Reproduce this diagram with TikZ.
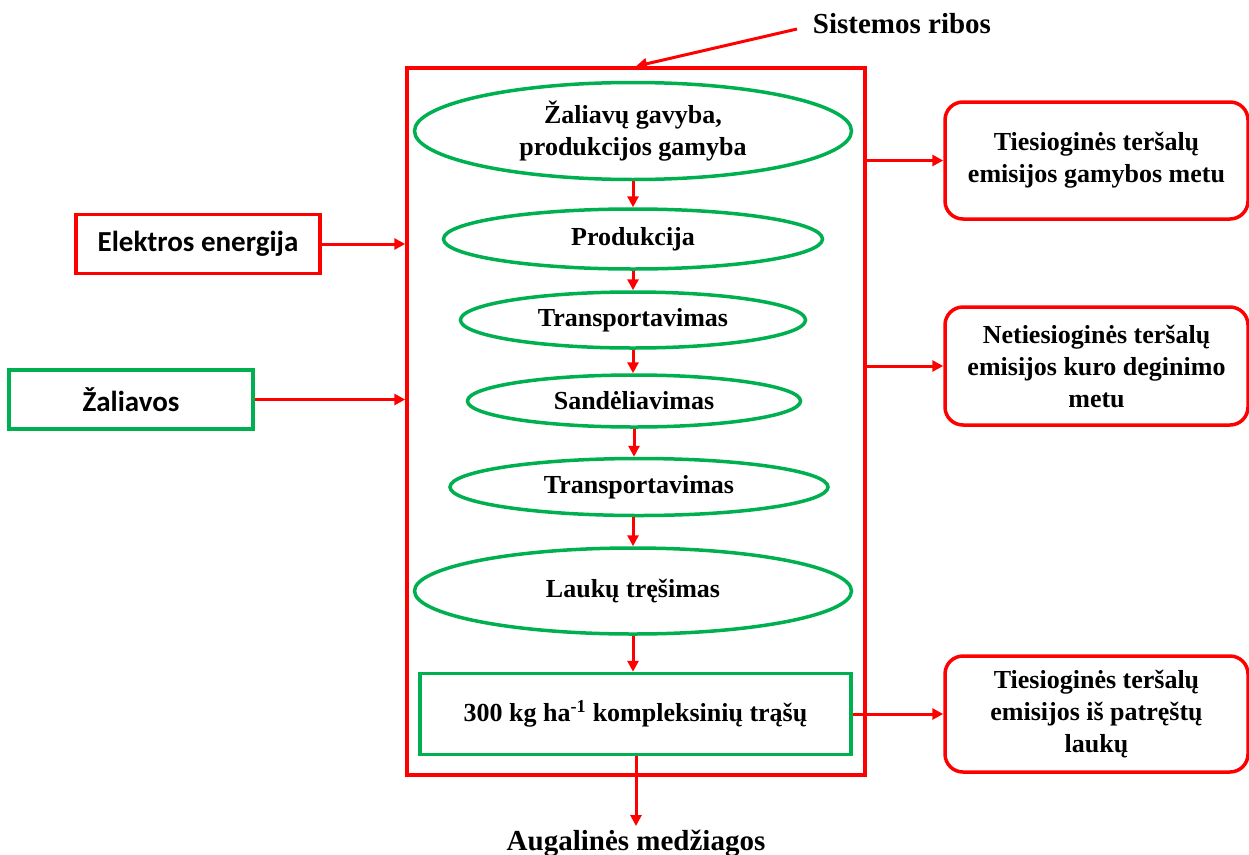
\documentclass[tikz,border=0pt]{standalone}
\usepackage{fontspec}
\setmainfont{Liberation Serif}
\newfontfamily\calib{Carlito}
\usetikzlibrary{arrows.meta,shapes.geometric}
\definecolor{myred}{RGB}{255,0,0}
\definecolor{mygreen}{RGB}{0,176,80}
\begin{document}
\begin{tikzpicture}[x=1pt,y=-1pt,
  arr/.style={draw=myred, line width=3pt, -{Triangle[length=11pt,width=11pt]}},
  ell/.style={ellipse, draw=mygreen, line width=3.5pt, inner sep=0pt, align=center,
              font=\fontsize{26}{32}\selectfont\bfseries},
  rbox/.style={draw=myred, line width=3.5pt, rounded corners=18pt, align=center,
               minimum width=303pt, inner sep=0pt,
               font=\fontsize{26}{32}\selectfont\bfseries},
  lbox/.style={draw=#1, line width=3.5pt, minimum width=244pt, minimum height=59pt,
               inner sep=0pt, font=\fontsize{29}{34}\selectfont\calib\bfseries},
  lbl/.style={inner sep=0pt, font=\fontsize{29}{34}\selectfont\bfseries}]
\useasboundingbox (0,0) rectangle (1249,854);
\fill[white] (0,0) rectangle (1249,854);

% system boundary
\node[draw=myred, line width=3.5pt, minimum width=458pt, minimum height=707pt, inner sep=0pt] (sys) at (636,421.5) {};

% process ellipses
\node[ell, minimum width=437pt, minimum height=97pt] (e1) at (633,131) {Žaliavų gavyba,\\produkcijos gamyba};
\node[ell, minimum width=379pt, minimum height=60pt] (e2) at (633,239) {Produkcija};
\node[ell, minimum width=345pt, minimum height=56pt] (e3) at (633,320) {Transportavimas};
\node[ell, minimum width=333pt, minimum height=52pt] (e4) at (634,401) {Sandėliavimas};
\node[ell, minimum width=378pt, minimum height=57pt] (e5) at (639,487) {Transportavimas};
\node[ell, minimum width=437pt, minimum height=86pt] (e6) at (633,591) {Laukų tręšimas};
\node[draw=mygreen, line width=3.5pt, minimum width=431pt, minimum height=81pt, inner sep=0pt,
      font=\fontsize{26}{32}\selectfont\bfseries] (g) at (635.5,714)
      {300 kg ha\textsuperscript{-1} kompleksinių trąšų};

\draw[arr] (e1.south) -- (e1.south |- e2.north);
\draw[arr] (e2.south) -- (e2.south |- e3.north);
\draw[arr] (e3.south) -- (e3.south |- e4.north);
\draw[arr] (e4.south) -- (e4.south |- e5.north);
\draw[arr] (e5.south -| e6.north) -- (e6.north);
\draw[arr] (e6.south) -- (e6.south |- g.north);

% output
\node[lbl, anchor=base, inner sep=0pt] (aug) at (636,850) {Augalinės medžiagos};
\coordinate (augtop) at (636,826);
\draw[arr] (g.south -| augtop) -- (augtop);

% title
\node[lbl] (title) at (902,24) {Sistemos ribos};
\coordinate (tstart) at (797,29);
\draw[arr] (tstart) -- (sys.north);

% inputs
\node[lbox=myred] (el) at (198,244) {Elektros energija};
\node[lbox=mygreen] (za) at (131,399.5) {Žaliavos};
\draw[arr] (el.east) -- (el.east -| sys.west);
\draw[arr] (za.east) -- (za.east -| sys.west);

% emissions
\node[rbox, minimum height=117pt] (r1) at (1096.5,160.5) {Tiesioginės teršalų\\emisijos gamybos metu};
\node[rbox, minimum height=118pt] (r2) at (1096.5,366) {Netiesioginės teršalų\\emisijos kuro deginimo\\metu};
\node[rbox, minimum height=116pt] (r3) at (1096.5,714) {Tiesioginės teršalų\\emisijos iš patręštų\\laukų};
\draw[arr] (sys.east |- r1.west) -- (r1.west);
\draw[arr] (sys.east |- r2.west) -- (r2.west);
\draw[arr] (g.east) -- (r3.west);
\end{tikzpicture}
\end{document}
